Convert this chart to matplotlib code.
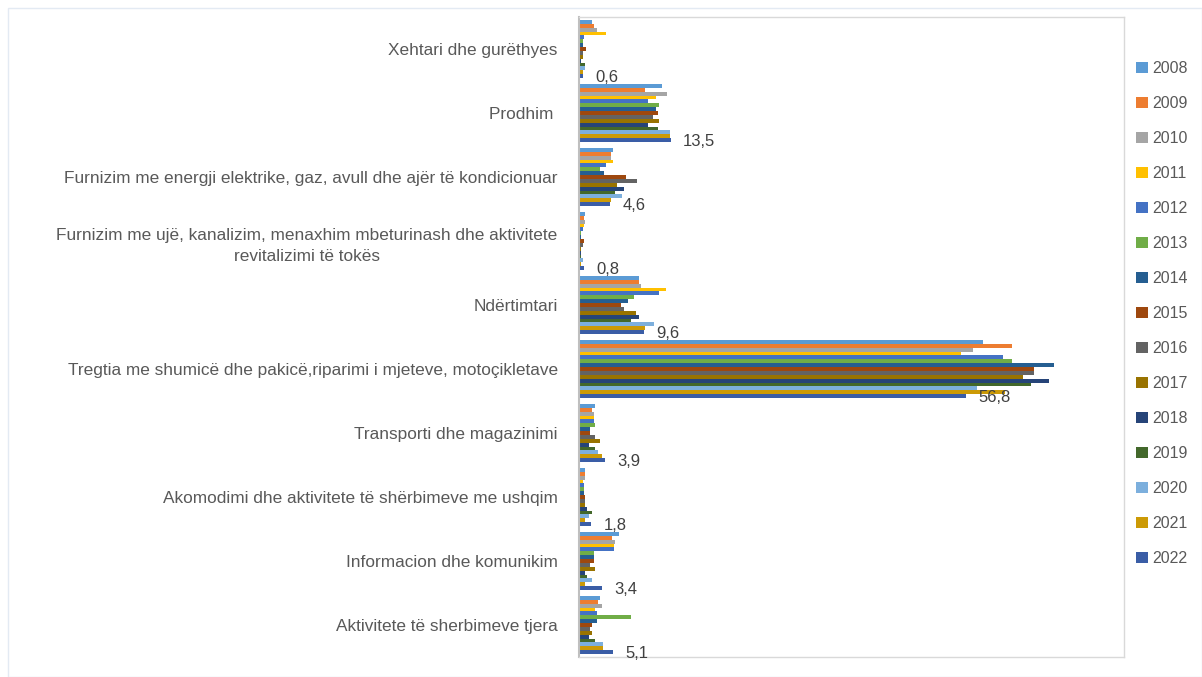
import matplotlib
matplotlib.use("Agg")
import matplotlib.pyplot as plt
from matplotlib.patches import Rectangle
import numpy as np

plt.rcParams['font.family'] = ['Liberation Sans', 'DejaVu Sans']

categories = [
    'Xehtari dhe gurëthyes',
    'Prodhim ',
    'Furnizim me energji elektrike, gaz, avull dhe ajër të kondicionuar',
    'Furnizim me ujë, kanalizim, menaxhim mbeturinash dhe aktivitete\nrevitalizimi të tokës',
    'Ndërtimtari',
    'Tregtia me shumicë dhe pakicë,riparimi i mjeteve, motoçikletave',
    'Transporti dhe magazinimi',
    'Akomodimi dhe aktivitete të shërbimeve me ushqim',
    'Informacion dhe komunikim',
    'Aktivitete të sherbimeve tjera',
]

years = list(range(2008, 2023))

# vlerat sipas vitit (rendi i kategorive si më sipër)
v2008 = [2.0, 12.2, 5.0, 1.0, 8.8, 59.3, 2.4, 1.0, 5.9, 3.1]
v2009 = [2.2, 9.7, 4.7, 0.8, 8.8, 63.6, 2.0, 1.0, 4.9, 2.9]
v2010 = [2.7, 13.0, 4.7, 1.0, 9.2, 57.9, 2.2, 1.0, 5.4, 3.4]
v2011 = [4.0, 11.4, 5.0, 0.8, 12.9, 56.1, 2.2, 0.6, 5.2, 2.4]
v2012 = [0.8, 10.2, 4.0, 0.6, 11.8, 62.2, 2.2, 0.8, 5.2, 2.7]
v2013 = [0.6, 11.8, 3.1, 0.4, 8.1, 63.6, 2.4, 0.8, 2.2, 7.7]
v2014 = [0.6, 11.4, 3.8, 0.4, 7.2, 69.8, 1.7, 0.8, 2.2, 2.7]
v2015 = [1.05, 11.6, 7.0, 0.8, 6.3, 66.8, 1.7, 1.0, 2.2, 2.0]
v2016 = [0.6, 10.9, 8.6, 0.6, 6.7, 66.8, 2.4, 1.0, 1.7, 1.7]
v2017 = [0.6, 11.8, 5.6, 0.4, 8.4, 65.2, 3.1, 1.0, 2.4, 2.0]
v2018 = [0.4, 10.2, 6.7, 0.4, 8.8, 69.0, 1.5, 1.3, 1.0, 1.5]
v2019 = [1.0, 11.6, 5.4, 0.4, 7.7, 66.4, 2.4, 2.0, 1.3, 2.4]
v2020 = [1.0, 13.4, 6.4, 0.6, 11.1, 58.4, 2.9, 1.5, 2.0, 3.6]
v2021 = [0.6, 13.4, 4.7, 0.3, 9.7, 62.6, 3.4, 1.0, 1.0, 3.6]
v2022 = [0.6, 13.5, 4.6, 0.8, 9.6, 56.8, 3.9, 1.8, 3.4, 5.1]

series = [v2008, v2009, v2010, v2011, v2012, v2013, v2014, v2015,
          v2016, v2017, v2018, v2019, v2020, v2021, v2022]

colors = ['#5B9BD5', '#ED7D31', '#A5A5A5', '#FFC000', '#4472C4', '#70AD47',
          '#255E91', '#9E480E', '#636363', '#997300', '#264478', '#43682B',
          '#7CAFDD', '#CC9A06', '#3A5DA6']

W, H = 1202, 677
fig = plt.figure(figsize=(W / 100, H / 100), dpi=100)
ax = fig.add_axes([578.5 / W, 1 - 657 / H, (1124 - 578.5) / W, (657 - 17) / H])

y = np.arange(len(categories))
h = 0.91 / len(years)
bars = []
for j, (yr, vals, c) in enumerate(zip(years, series, colors)):
    b = ax.barh(y + (j - 7) * h, vals, height=h, color=c, label=str(yr))
    bars.append(b)

# etiketat vetëm për 2022
for yi, v in zip(y, v2022):
    ax.annotate(f'{v:.1f}'.replace('.', ','), (v, yi + 7 * h), xytext=(9, -1),
                textcoords='offset points', va='center', ha='left',
                fontsize=12, color='#404040')

ax.set_xlim(0, 80)
ax.set_ylim(len(categories) - 0.5, -0.5)
ax.set_xticks([])
ax.set_yticks(y)
ax.set_yticklabels(categories, fontsize=12.4, color='#595959')
for lbl in ax.get_yticklabels():
    lbl.set_multialignment('center')
    lbl.set_linespacing(1.5)
ax.tick_params(axis='y', length=0, pad=15)

for s in ['top', 'right', 'bottom']:
    ax.spines[s].set_color('#D9D9D9')
    ax.spines[s].set_linewidth(1)
ax.spines['left'].set_color('#BFBFBF')
ax.spines['left'].set_linewidth(1.5)

leg = fig.legend(handles=bars, loc='upper left',
                 bbox_to_anchor=(1130 / W, 1 - 55 / H), frameon=False,
                 fontsize=11.5, handlelength=0.7, handleheight=0.7,
                 handletextpad=0.3, labelspacing=1.25, borderaxespad=0)
for t in leg.get_texts():
    t.set_color('#595959')

fig.patches.append(Rectangle((8 / W, 0), 1 - 8 / W, 1 - 8 / H,
                             transform=fig.transFigure, fill=False,
                             edgecolor='#E3EAF3', linewidth=1))

fig.savefig('out.png', dpi=100)
